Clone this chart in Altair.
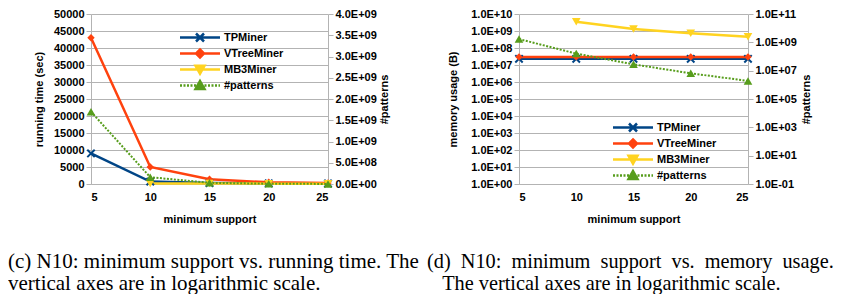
import altair as alt
import pandas as pd

# ---------------- data ----------------
support = [5, 10, 15, 20, 25]
series_names = ["TPMiner", "VTreeMiner", "MB3Miner", "#patterns"]
series_colors = ["#004586", "#ff420e", "#ffd320", "#579d1c"]

# (c) running time (sec)
tp_time = [9000, 700, 300, 200, 150]
vt_time = [43000, 5000, 1400, 500, 300]
mb3_time = [None, 150, 150, 100, 80]
patterns_count = [1.7e9, 1.6e8, 2.8e7, 6.5e6, 1.9e6]

# (d) memory usage (B)
tp_mem = [2.3e7, 2.3e7, 2.3e7, 2.3e7, 2.3e7]
vt_mem = [3.0e7, 3.0e7, 3.0e7, 3.0e7, 3.0e7]
mb3_mem = [None, 3.5e9, 1.3e9, 7.3e8, 4.6e8]

time_ticks = [0, 5000, 10000, 15000, 20000, 25000, 30000, 35000, 40000, 45000, 50000]
pattern_lin_ticks = [0, 5e8, 1e9, 1.5e9, 2e9, 2.5e9, 3e9, 3.5e9, 4e9]
mem_ticks = [1e0, 1e1, 1e2, 1e3, 1e4, 1e5, 1e6, 1e7, 1e8, 1e9, 1e10]
pattern_log_ticks = [1e-1, 1e1, 1e3, 1e5, 1e7, 1e9, 1e11]

NB = "\u00a0"
caption_c = ["(c) N10: minimum support vs. running time. The",
             "vertical axes are in logarithmic scale."]
caption_d = [(NB + " ").join(["(d)", "N10:", "minimum", "support", "vs.", "memory", "usage."]),
             "\u200b" + NB * 3 + "The vertical axes are in logarithmic scale."]


def long_df(cols):
    rows = []
    for name, vals in cols:
        for s, v in zip(support, vals):
            if v is not None:
                rows.append({"support": s, "series": name, "value": v})
    return pd.DataFrame(rows)


time_df = long_df([("TPMiner", tp_time), ("VTreeMiner", vt_time), ("MB3Miner", mb3_time)])
mem_df = long_df([("TPMiner", tp_mem), ("VTreeMiner", vt_mem), ("MB3Miner", mb3_mem)])
pat_df = long_df([("#patterns", patterns_count)])

# ---------------- styling ----------------
GRAY = "#b3b3b3"
SANS = "Liberation Sans"

SCI = ("datum.value == 0 ? '0.0E+00' : "
       "format(datum.value / pow(10, floor(log(datum.value) / LN10 + 1e-9)), '.1f') + 'E' + "
       "(floor(log(datum.value) / LN10 + 1e-9) < 0 ? '-' : '+') + "
       "format(abs(floor(log(datum.value) / LN10 + 1e-9)), '02d')")

# legend symbols: line segment (+-4 units = +-20 px at size 100) + marker
dots = []
xx = -4.0
while xx < 3.99:
    dots.append(f"M{xx:.2f},0H{min(xx + 0.4, 4.0):.2f}")
    xx += 0.7
legend_paths = [
    "M-4,0H4M-0.8,-0.8L0.8,0.8M-0.8,0.8L0.8,-0.8",
    "M-4,0H4M0,-0.8L0.8,0L0,0.8L-0.8,0Z",
    "M-4,0H4M-0.9,-0.75L0.9,-0.75L0,0.85Z",
    "".join(dots) + "M0,-0.9L0.9,0.7L-0.9,0.7Z",
]
X_PATH = "M-1,-1L1,1M-1,1L1,-1"

# line/point colour scale uses a different domain order than the legend scales,
# so its (hidden) legend is never merged with the visible one
color_scale = alt.Scale(domain=series_names[::-1], range=series_colors[::-1])


def make_legend(lx, ly):
    return alt.Legend(orient="none", legendX=lx, legendY=ly, title=None,
                      symbolSize=100, symbolStrokeWidth=2.5, symbolOpacity=1,
                      labelFont=SANS, labelFontSize=11, labelFontWeight="bold",
                      labelColor="black", labelOffset=17.5, rowPadding=-7, padding=0)


def panel(mdf, pdf, yl_scale, yl_axis, yr_scale, yr_axis, lx, ly, caption, dx, width, csize):
    x = alt.X("support:Q", scale=alt.Scale(domain=[5, 25], nice=False, zero=False),
              axis=alt.Axis(values=support, title="minimum support", grid=False, ticks=False,
                            labelPadding=7, titlePadding=11, labelFontSize=11))
    color = alt.Color("series:N", scale=color_scale, legend=None)
    base = alt.Chart(mdf).encode(x=x, y=alt.Y("value:Q", scale=yl_scale, axis=yl_axis))
    cbase = base.encode(color=color)
    lines = cbase.mark_line(strokeWidth=2.5)
    p_tp = cbase.transform_filter(alt.datum.series == "TPMiner").mark_point(
        shape=X_PATH, filled=False, size=55, strokeWidth=2, opacity=1)
    p_vt = cbase.transform_filter(alt.datum.series == "VTreeMiner").mark_point(
        shape="diamond", filled=True, size=55, opacity=1)
    p_mb = cbase.transform_filter(alt.datum.series == "MB3Miner").mark_point(
        shape="triangle-down", filled=True, size=75, opacity=1)
    leg = make_legend(lx, ly)
    legend_layer = base.mark_point(opacity=0, filled=True).encode(
        fill=alt.Fill("series:N", scale=alt.Scale(domain=series_names, range=series_colors), legend=leg),
        stroke=alt.Stroke("series:N", scale=alt.Scale(domain=series_names, range=series_colors), legend=leg),
        shape=alt.Shape("series:N", scale=alt.Scale(domain=series_names, range=legend_paths), legend=leg),
    )
    left_layer = alt.layer(lines, p_tp, p_vt, p_mb, legend_layer)

    pbase = alt.Chart(pdf).encode(x=x, y=alt.Y("value:Q", scale=yr_scale, axis=yr_axis), color=color)
    pline = pbase.mark_line(strokeWidth=2, strokeDash=[2, 1.5])
    ppts = pbase.mark_point(shape="triangle-up", filled=True, size=75, opacity=1)
    right_layer = alt.layer(pline, ppts)

    return alt.layer(left_layer, right_layer).resolve_scale(y="independent").properties(
        width=width, height=170,
        title=alt.TitleParams(text=caption, orient="bottom", anchor="start", frame="group",
                              dx=dx, offset=44, font="Liberation Serif", fontSize=csize,
                              fontWeight="normal", color="black", lineHeight=21.5,
                              baseline="alphabetic"))


left = panel(
    time_df, pat_df,
    alt.Scale(domain=[0, 50000], nice=False, zero=True),
    alt.Axis(values=time_ticks, format="d", title="running time (sec)", tickSize=5,
             labelPadding=2, titlePadding=9, grid=True),
    alt.Scale(domain=[0, 4e9], nice=False, zero=True),
    alt.Axis(orient="right", values=pattern_lin_ticks, labelExpr=SCI, title="#patterns",
             titleAngle=270, tickSize=5, labelPadding=2, titlePadding=13, grid=False),
    102.5, 17, caption_c, -83, 237, 21)

right = panel(
    mem_df, pat_df,
    alt.Scale(type="log", domain=[1, 1e10], nice=False),
    alt.Axis(values=mem_ticks, labelExpr=SCI, title="memory usage (B)", tickSize=5,
             labelPadding=2, titlePadding=12, grid=True),
    alt.Scale(type="log", domain=[1e-1, 1e11], nice=False),
    alt.Axis(orient="right", values=pattern_log_ticks, labelExpr=SCI, title="#patterns",
             titleAngle=270, tickSize=5, labelPadding=2, titlePadding=15, grid=False),
    107.5, 107, caption_d, -92, 229, 20.3)

chart = alt.hconcat(left, right, spacing=191, bounds="flush").resolve_scale(
    color="independent", fill="independent", stroke="independent", shape="independent"
).properties(padding=0).configure_view(strokeWidth=0).configure_axis(
    labelFont=SANS, labelFontSize=11, labelFontWeight="bold", labelColor="black",
    titleFont=SANS, titleFontSize=11, titleFontWeight="bold", titleColor="black",
    domainColor=GRAY, tickColor=GRAY, gridColor=GRAY, domainWidth=1, gridWidth=1,
)

chart.save("out.html", embed_options={"renderer": "svg", "actions": False})
